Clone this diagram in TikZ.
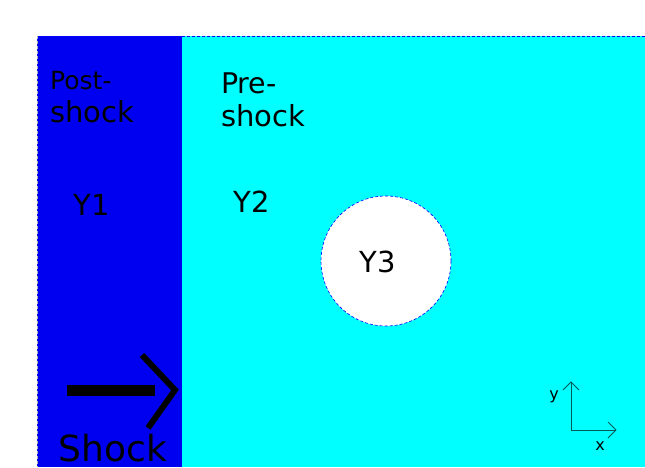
\documentclass[tikz,border=0pt]{standalone}
\usepackage{fontspec}
\setmainfont{DejaVu Sans}
\definecolor{bluefill}{RGB}{0,0,240}
\definecolor{cyanfill}{RGB}{0,255,255}
\definecolor{axiscol}{RGB}{0,90,90}
\tikzset{
  lbl/.style={font=\fontsize{29}{33}\selectfont, text=black, inner sep=0pt, anchor=base west, align=left},
  edge/.style={draw=blue, densely dashed, line width=0.6pt},
}
\begin{document}
\begin{tikzpicture}[x=1pt,y=-1pt]
\useasboundingbox[fill=white] (0,0) rectangle (645,467);
% regions
\fill[cyanfill] (182,36) rectangle (645,467);
\fill[bluefill] (37,36) rectangle (182,467);
\draw[edge] (37,36) -- (645,36);
\draw[draw=gray!60, densely dashed, line width=0.6pt] (37,36) -- (37,467);
% obstacle
\node[circle, minimum size=130pt, fill=white, draw=blue, densely dashed, line width=0.6pt, inner sep=0pt] (obst) at (386,261) {};
% labels
\node[lbl] (post) at (50,122) {\fontsize{25}{32}\selectfont Post-\\shock};
\node[lbl] (pre) at (221,126) {\fontsize{28.5}{33}\selectfont Pre-\\shock};
\node[lbl, anchor=center] (y1) at (92,205) {Y1};
\node[lbl, anchor=center] (y2) at (252,202) {Y2};
\node[lbl, anchor=center] (y3) at (378,262) {Y3};
\node[lbl, anchor=base] (shock) at (113,461) {\fontsize{36}{40}\selectfont Shock};
% shock arrow
\coordinate (sa) at (67,390);
\coordinate (sb) at (155,390);
\draw[black, line width=11pt] (sa) -- (sb);
\draw[black, line width=6pt, line join=miter] (142,355) -- (175,390) -- (148,428);
% axes
\coordinate (o) at (571,430);
\coordinate (ytip) at (571,382);
\coordinate (xtip) at (616,430);
\draw[axiscol, line width=0.8pt] (ytip) -- (o) -- (xtip);
\draw[axiscol, line width=0.8pt] (563,390) -- (ytip) -- (579,390);
\draw[axiscol, line width=0.8pt] (608,422) -- (xtip) -- (608,438);
\node[font=\fontsize{16}{18}\selectfont, inner sep=0pt] (ylab) at (554,397) {y};
\node[font=\fontsize{16}{18}\selectfont, inner sep=0pt] (xlab) at (600,446) {x};
\end{tikzpicture}
\end{document}
